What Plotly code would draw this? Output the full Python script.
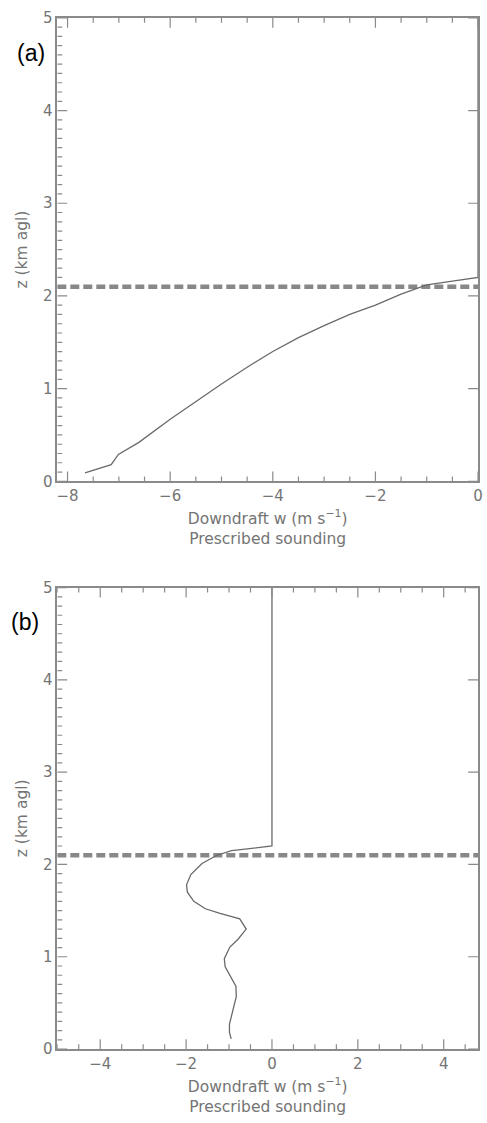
import numpy as np
import plotly.graph_objects as go

# Panel (a) prescribed downdraft profile
w_a = [-7.66, -7.15, -7.01, -6.61, -6.0, -5.5, -5.0, -4.5, -4.0, -3.5, -3.0, -2.5, -2.0, -1.5, -1.0, -0.5, 0.0, 0.0]
z_a = [0.09, 0.18, 0.29, 0.42, 0.67, 0.86, 1.05, 1.23, 1.40, 1.55, 1.68, 1.80, 1.90, 2.02, 2.12, 2.16, 2.2, 5.0]

# Panel (b) prescribed downdraft profile
w_b = [0.0, 0.0, -0.94, -1.28, -1.63, -1.89, -1.99, -1.97, -1.82, -1.55, -1.21, -0.75, -0.60,
       -0.79, -0.98, -1.11, -1.09, -0.98, -0.84, -0.83, -0.90, -0.99, -0.99, -0.95]
z_b = [5.0, 2.2, 2.15, 2.10, 2.01, 1.89, 1.78, 1.70, 1.60, 1.52, 1.47, 1.41, 1.30,
       1.19, 1.105, 0.98, 0.89, 0.79, 0.68, 0.57, 0.43, 0.27, 0.18, 0.11]

dash_z = 2.1
xrange_a = [-8.2, 0.0]
xrange_b = [-5.0, 4.8]
yrange = [0, 5]

W, H = 487, 1123
x0, x1 = 57, 483
top_a, bot_a = 9, 480
top_b, bot_b = 588, 1057

GRAY = "#8a8a8a"
TXT = "#747474"
FONT = "DejaVu Sans"
CURVE = "#6a6a6a"


def tick_marks(xr, yr, wpx, hpx, xmaj=2.0, xminor=0.5, ymaj=1.0, yminor=0.1, major_len=10, minor_len=5):
    """Inward IDL-style tick marks along the frame, derived from the axis ranges."""
    ux = (xr[1] - xr[0]) / wpx
    uy = (yr[1] - yr[0]) / hpx
    xs, ys = [], []
    start = np.ceil(xr[0] / xminor - 1e-9) * xminor
    for v in np.arange(start, xr[1] + 1e-9, xminor):
        major = abs(v / xmaj - round(v / xmaj)) < 1e-6
        L = (major_len if major else minor_len) * uy
        xs += [v, v, None, v, v, None]
        ys += [yr[0], yr[0] + L, None, yr[1], yr[1] - L, None]
    for v in np.arange(yr[0], yr[1] + 1e-9, yminor):
        major = abs(v / ymaj - round(v / ymaj)) < 1e-6
        L = (major_len if major else minor_len) * ux
        xs += [xr[0], xr[0] + L, None]
        ys += [v, v, None]
        if major:
            xs += [xr[1], xr[1] - L, None]
            ys += [v, v, None]
    return xs, ys


fig = go.Figure()

for xr, ax, ay in [(xrange_a, "x", "y"), (xrange_b, "x2", "y2")]:
    fig.add_trace(go.Scatter(x=xr, y=[dash_z, dash_z], mode="lines",
                             line=dict(color="#888888", width=4.5, dash="9px,4px"),
                             xaxis=ax, yaxis=ay, showlegend=False, hoverinfo="skip"))

fig.add_trace(go.Scatter(x=w_a, y=z_a, mode="lines", line=dict(color=CURVE, width=1.3),
                         xaxis="x", yaxis="y", showlegend=False))
fig.add_trace(go.Scatter(x=w_b, y=z_b, mode="lines", line=dict(color=CURVE, width=1.3),
                         xaxis="x2", yaxis="y2", showlegend=False))

tx, ty = tick_marks(xrange_a, yrange, x1 - x0, bot_a - top_a)
fig.add_trace(go.Scatter(x=tx, y=ty, mode="lines", line=dict(color=GRAY, width=1.2),
                         xaxis="x", yaxis="y", showlegend=False, hoverinfo="skip",
                         cliponaxis=False, connectgaps=False))
tx, ty = tick_marks(xrange_b, yrange, x1 - x0, bot_b - top_b)
fig.add_trace(go.Scatter(x=tx, y=ty, mode="lines", line=dict(color=GRAY, width=1.2),
                         xaxis="x2", yaxis="y2", showlegend=False, hoverinfo="skip",
                         cliponaxis=False, connectgaps=False))

xdom = [x0 / W, x1 / W]

def xax(rng, anchor, title):
    return dict(domain=xdom, range=rng, anchor=anchor, dtick=2, tick0=0,
                showgrid=False, zeroline=False, showline=True, linecolor=GRAY, linewidth=1.5,
                mirror=True, ticks="",
                tickfont=dict(family=FONT, size=15, color=TXT),
                ticklabeloverflow="allow",
                title=dict(text=title, font=dict(family=FONT, size=15.5, color=TXT), standoff=9))

def yax(dom, anchor):
    return dict(domain=dom, range=yrange, anchor=anchor, dtick=1, tick0=0,
                showgrid=False, zeroline=False, showline=True, linecolor=GRAY, linewidth=1.5,
                mirror=True, ticks="",
                tickfont=dict(family=FONT, size=15, color=TXT),
                title=dict(text="z (km agl)", font=dict(family=FONT, size=15.5, color=TXT), standoff=12))

xtitle = "Downdraft w (m s<sup>−1</sup>)<br>Prescribed sounding"

fig.update_layout(
    template="simple_white",
    width=W, height=H,
    margin=dict(l=0, r=0, t=0, b=0),
    paper_bgcolor="white", plot_bgcolor="white",
    xaxis=xax(xrange_a, "y", xtitle),
    yaxis=yax([1 - bot_a / H, 1 - top_a / H], "x"),
    xaxis2=xax(xrange_b, "y2", xtitle),
    yaxis2=yax([1 - bot_b / H, 1 - top_b / H], "x2"),
    annotations=[
        dict(text="(a)", x=14 / W, y=1 - 45 / H, xref="paper", yref="paper",
             xanchor="left", yanchor="middle", showarrow=False,
             font=dict(family="Liberation Sans", size=23, color="black")),
        dict(text="(b)", x=8 / W, y=1 - 623 / H, xref="paper", yref="paper",
             xanchor="left", yanchor="middle", showarrow=False,
             font=dict(family="Liberation Sans", size=23, color="black")),
    ],
)

fig.write_html("out.html")
